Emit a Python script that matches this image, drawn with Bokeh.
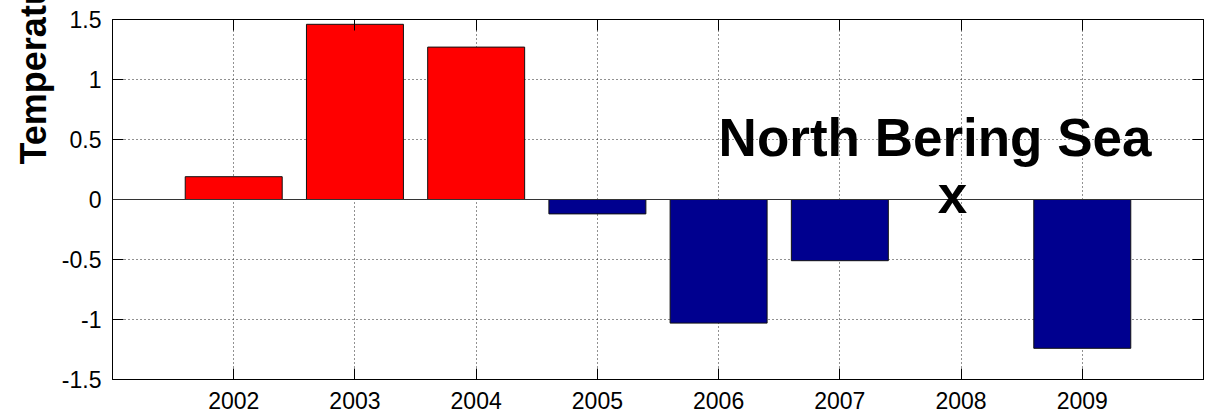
import math
from bokeh.plotting import figure
from bokeh.models import (Range1d, FixedTicker, LinearAxis, Span, Label, Title, ColumnDataSource)
from bokeh.embed import file_html
from bokeh.resources import INLINE

# ---- data ----
years = [2002, 2003, 2004, 2005, 2006, 2007, 2009]
anomaly = [0.19, 1.46, 1.27, -0.12, -1.03, -0.51, -1.24]
bar_colors = ["#FF0000" if v > 0 else "#00008F" for v in anomaly]

x_ticks = [2002, 2003, 2004, 2005, 2006, 2007, 2008, 2009]
x_tick_labels = ["2002", "2003", "2004", "2005", "2006", "2007", "2008", "2009"]
y_ticks = [-1.5, -1.0, -0.5, 0.0, 0.5, 1.0, 1.5]
y_tick_labels = ["-1.5", "-1", "-0.5", "0", "0.5", "1", "1.5"]

y_label_text = "Temperature Anomaly (\u00b0C)"
annot_text = ["North Bering Sea", "x"]
annot_x = [2006.0, 2007.93]
annot_y = [0.52, 0.04]
annot_align = ["left", "center"]

FONT = "Liberation Sans"

p = figure(width=1209, height=413, output_backend="svg", toolbar_location=None,
           x_range=Range1d(2001, 2010), y_range=Range1d(-1.5, 1.5),
           min_border_left=112, min_border_right=6, min_border_top=19,
           min_border_bottom=34, background_fill_color="white",
           border_fill_color="white")

p.outline_line_color = "black"
p.outline_line_width = 1

# grid
for g in (p.xgrid, p.ygrid):
    g.grid_line_color = "#222222"
    g.grid_line_dash = "1 3"
    g.grid_line_width = 1
p.xgrid.ticker = FixedTicker(ticks=x_ticks)
p.ygrid.ticker = FixedTicker(ticks=y_ticks)

# bars
src = ColumnDataSource(dict(x=years, top=anomaly, color=bar_colors))
p.vbar(x="x", top="top", bottom=0, width=0.8, fill_color="color",
       line_color="#111111", line_width=1, source=src)

# baseline
p.add_layout(Span(location=0, dimension="width", line_color="#333333", line_width=1))

# axes
def style_axis(ax, ticks, labels, show_labels=True):
    ax.ticker = FixedTicker(ticks=ticks)
    ax.major_label_overrides = {t: l for t, l in zip(ticks, labels)}
    ax.major_tick_in = 11
    ax.major_tick_out = 0
    ax.minor_tick_in = 0
    ax.minor_tick_out = 0
    ax.axis_line_color = "black"
    ax.major_tick_line_color = "black"
    ax.major_label_text_font = FONT
    ax.major_label_text_color = "black"
    if show_labels:
        ax.major_label_text_font_size = "23px"
        ax.major_label_standoff = 12
    else:
        ax.major_label_text_font_size = "0px"
        ax.major_label_standoff = 0

style_axis(p.xaxis[0], x_ticks, x_tick_labels)
style_axis(p.yaxis[0], y_ticks, y_tick_labels)
p.yaxis[0].major_label_standoff = 11

ax_top = LinearAxis()
style_axis(ax_top, x_ticks, ["" for _ in x_ticks], show_labels=False)
p.add_layout(ax_top, "above")
ax_right = LinearAxis()
style_axis(ax_right, y_ticks, ["" for _ in y_ticks], show_labels=False)
p.add_layout(ax_right, "right")

# y label as a side title (starts above middle and runs off the top, as in reference)
p.add_layout(Title(text=y_label_text, align="left", offset=215,
                   text_font=FONT, text_font_size="36px", text_font_style="bold",
                   text_color="black", standoff=9), "left")

# annotations
for t, x, y, a in zip(annot_text, annot_x, annot_y, annot_align):
    p.add_layout(Label(x=x, y=y, text=t, text_font=FONT,
                       text_font_size="53px", text_font_style="bold",
                       text_align=a, text_baseline="alphabetic",
                       text_color="black"))

open("out.html", "w").write(file_html(p, INLINE))
